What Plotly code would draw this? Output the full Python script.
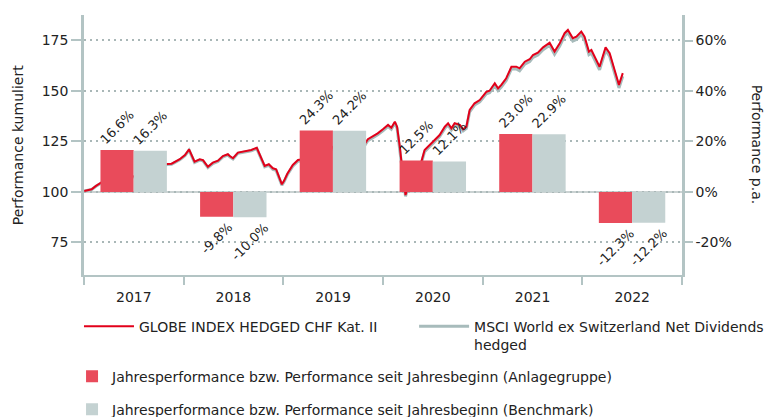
import plotly.graph_objects as go

# ---------------- data ----------------
dates = [
    "2017-01-02", "2017-01-29", "2017-02-14", "2017-03-07", "2017-03-30", "2017-04-17", "2017-05-05",
    "2017-05-31", "2017-06-18", "2017-07-07", "2017-07-31", "2017-08-23", "2017-09-18", "2017-10-12",
    "2017-11-01", "2017-11-18", "2017-12-18",
    "2018-01-06", "2018-01-21", "2018-02-10", "2018-03-01", "2018-03-13", "2018-03-31", "2018-04-18",
    "2018-05-07", "2018-05-25", "2018-06-12", "2018-06-19", "2018-07-01", "2018-07-19", "2018-08-06",
    "2018-08-25", "2018-09-06", "2018-09-26", "2018-10-25", "2018-11-09", "2018-11-24", "2018-12-06",
    "2018-12-27",
    "2019-01-04", "2019-01-16", "2019-02-05", "2019-02-24", "2019-03-14", "2019-04-01", "2019-04-19",
    "2019-05-08", "2019-05-26", "2019-06-13", "2019-07-02", "2019-07-20", "2019-08-07", "2019-08-26",
    "2019-09-13", "2019-10-01", "2019-10-20", "2019-11-07", "2019-11-25", "2019-12-13",
    "2020-01-01", "2020-01-20", "2020-02-01", "2020-02-14", "2020-02-22", "2020-03-03", "2020-03-15",
    "2020-03-24", "2020-04-02", "2020-04-15", "2020-05-03", "2020-05-21", "2020-06-02", "2020-06-21",
    "2020-07-09", "2020-07-27", "2020-08-15", "2020-08-27", "2020-09-08", "2020-09-20", "2020-10-09",
    "2020-10-21", "2020-11-02", "2020-11-14", "2020-12-02", "2020-12-21",
    "2021-01-14", "2021-01-26", "2021-02-14", "2021-02-26", "2021-03-10", "2021-03-28", "2021-04-16",
    "2021-05-04", "2021-05-16", "2021-06-04", "2021-06-22", "2021-07-04", "2021-07-22", "2021-08-10",
    "2021-09-03", "2021-09-21", "2021-10-10", "2021-10-28", "2021-11-09", "2021-11-27", "2021-12-10",
    "2021-12-28",
    "2022-01-09", "2022-01-25", "2022-02-03", "2022-03-05", "2022-03-27", "2022-04-11", "2022-04-29",
    "2022-05-15", "2022-05-29",
]

globe_index = [
    100.5, 101.3, 103.0, 104.8, 104.6, 104.3, 106.3, 107.3, 108.0, 107.6, 108.9, 107.6, 109.6, 112.2,
    113.9, 114.0, 116.2,
    118.3, 121.1, 115.0, 116.2, 115.8, 112.5, 114.5, 115.5, 117.8, 118.7, 117.8, 116.7, 119.5, 120.0,
    120.5, 120.8, 121.9, 112.9, 113.7, 111.7, 111.2, 103.8,
    105.5, 109.0, 113.4, 115.8, 116.2, 118.3, 120.8, 119.5, 116.2, 119.2, 122.4, 122.4, 118.3, 118.3,
    121.6, 120.5, 122.4, 126.1, 127.4, 129.0,
    131.0, 133.2, 131.8, 134.8, 132.3, 122.4, 107.6, 98.5, 102.6, 109.3, 112.5, 115.0, 120.8, 123.3,
    125.7, 128.2, 132.3, 134.0, 131.5, 134.0, 133.2, 131.0, 132.3, 140.6, 143.9, 145.5,
    149.6, 150.1, 153.8, 151.3, 153.0, 156.3, 162.0, 162.0, 161.2, 164.5, 165.7, 167.8, 169.0, 171.6,
    173.9, 169.5, 173.6, 178.6, 180.2, 176.1, 176.9, 179.4,
    176.9, 169.5, 170.3, 162.0, 171.6, 168.7, 160.4, 153.0, 158.8,
]

msci_world = [
    100.5, 101.2, 102.8, 104.6, 104.4, 104.1, 106.0, 107.0, 107.7, 107.3, 108.6, 107.3, 109.3, 111.9,
    113.6, 113.7, 115.9,
    118.0, 120.7, 114.6, 115.8, 115.4, 112.1, 114.1, 115.1, 117.4, 118.3, 117.4, 116.3, 119.1, 119.6,
    120.1, 120.4, 121.5, 112.4, 113.2, 111.2, 110.7, 103.4,
    105.0, 108.5, 112.8, 115.2, 115.6, 117.7, 120.1, 118.8, 115.4, 118.5, 121.7, 121.7, 117.6, 117.6,
    120.9, 119.8, 121.7, 125.4, 126.7, 128.3,
    130.3, 132.5, 131.1, 134.1, 131.6, 121.6, 106.9, 97.9, 102.0, 108.6, 111.8, 114.3, 120.0, 122.5,
    124.9, 127.4, 131.5, 133.2, 130.7, 133.2, 132.4, 130.2, 131.5, 139.7, 143.0, 144.6,
    148.6, 149.1, 152.7, 150.2, 151.9, 155.2, 160.9, 160.9, 160.0, 163.3, 164.5, 166.6, 167.8, 170.4,
    172.6, 168.2, 172.3, 177.3, 178.9, 174.7, 175.5, 178.0,
    175.4, 168.0, 168.8, 160.5, 170.1, 167.2, 158.9, 151.5, 157.3,
]

years = ["2017-07-02", "2018-07-02", "2019-07-02", "2020-07-02", "2021-07-02", "2022-07-02"]
perf_fund = [16.6, -9.8, 24.3, 12.5, 23.0, -12.3]
perf_bench = [16.3, -10.0, 24.2, 12.1, 22.9, -12.2]

left_ticks = [75, 100, 125, 150, 175]
right_ticks = [-20, 0, 20, 40, 60]
right_ticktext = ["-20%", "0%", "20%", "40%", "60%"]

name_fund_line = "GLOBE INDEX HEDGED CHF Kat. II"
name_bench_line = "MSCI World ex Switzerland Net Dividends<br>hedged"
name_fund_bar = "Jahresperformance bzw. Performance seit Jahresbeginn (Anlagegruppe)"
name_bench_bar = "Jahresperformance bzw. Performance seit Jahresbeginn (Benchmark)"

# ---------------- styles ----------------
FONT = "DejaVu Sans"
TXT = "#222222"
AXIS = "#B3C4C4"
GRID = "#A9B7B7"
RED_LINE = "#E2001A"
GREY_LINE = "#A7BBBB"
RED_BAR = "#E94B5B"
GREY_BAR = "#C4D2D2"

fig = go.Figure()

fig.add_trace(go.Bar(
    x=years, y=perf_fund, yaxis="y2", name=name_fund_bar,
    marker=dict(color=RED_BAR, line=dict(width=0)),
    texttemplate="%{y:.1f}%", textposition="outside", textangle=-45,
    textfont=dict(size=13, color=TXT, family=FONT), cliponaxis=False, constraintext="none",
    legend="legend2", legendgroup="a", offsetgroup="a",
))
fig.add_trace(go.Bar(
    x=years, y=perf_bench, yaxis="y2", name=name_bench_bar,
    marker=dict(color=GREY_BAR, line=dict(width=0)),
    texttemplate="%{y:.1f}%", textposition="outside", textangle=-45,
    textfont=dict(size=13, color=TXT, family=FONT), cliponaxis=False, constraintext="none",
    legend="legend2", legendgroup="b", offsetgroup="b",
))
fig.add_trace(go.Scatter(
    x=dates, y=msci_world, mode="lines", name=name_bench_line,
    line=dict(color=GREY_LINE, width=3), legend="legend3",
))
fig.add_trace(go.Scatter(
    x=dates, y=globe_index, mode="lines", name=name_fund_line,
    line=dict(color=RED_LINE, width=2), legend="legend",
))

fig.update_layout(
    width=765, height=417,
    showlegend=True,
    margin=dict(l=84, r=83, t=15, b=142, autoexpand=False),
    paper_bgcolor="white", plot_bgcolor="white",
    font=dict(family=FONT, size=14, color=TXT),
    barmode="group", bargap=1/3, bargroupgap=0,
    xaxis=dict(
        type="date", range=["2017-01-01", "2023-01-01"],
        tick0="2017-01-01", dtick="M12", ticklabelmode="period", tickformat="%Y",
        ticks="outside", ticklen=8, tickwidth=2, tickcolor=AXIS,
        showline=True, linecolor=AXIS, linewidth=2, showgrid=False, zeroline=False,
        tickfont=dict(size=14, color=TXT), automargin=False,
    ),
    yaxis=dict(
        range=[58.9, 187.6], tickmode="array", tickvals=left_ticks,
        ticks="outside", ticklen=10, tickwidth=2, tickcolor=AXIS,
        showline=True, linecolor=AXIS, linewidth=2.5,
        showgrid=True, gridcolor=GRID, gridwidth=2, griddash="2px,4px", zeroline=False,
        tickfont=dict(size=14, color=TXT), automargin=False,
    ),
    yaxis2=dict(
        overlaying="y", side="right", range=[-32.9, 70.1],
        tickmode="array", tickvals=right_ticks, ticktext=right_ticktext,
        ticks="outside", ticklen=8, tickwidth=2, tickcolor=AXIS,
        showline=True, linecolor=AXIS, linewidth=2.5, showgrid=False, zeroline=False,
        tickfont=dict(size=14, color=TXT), automargin=False,
    ),
    legend=dict(
        orientation="v", x=-0.0084, xanchor="left", y=-0.137, yanchor="top",
        itemwidth=50, font=dict(size=14, color=TXT), bgcolor="rgba(0,0,0,0)",
    ),
    legend3=dict(
        orientation="v", x=0.552, xanchor="left", y=-0.137, yanchor="top", valign="top",
        itemwidth=50, font=dict(size=14, color=TXT), bgcolor="rgba(0,0,0,0)",
    ),
    legend2=dict(
        orientation="v", x=-0.02, xanchor="left", y=-0.329, yanchor="top",
        tracegroupgap=12, font=dict(size=14, color=TXT), bgcolor="rgba(0,0,0,0)",
    ),
    shapes=[dict(type="line", xref="paper", x0=0, x1=1, yref="y", y0=100, y1=100,
                 line=dict(color="#B9C3C3", width=1.5), layer="below")],
    annotations=[
        dict(text="Performance kumuliert", xref="paper", yref="paper", x=-0.11, y=0.5,
             xanchor="center", yanchor="middle", textangle=-90, showarrow=False,
             font=dict(size=14, color=TXT)),
        dict(text="Performance p.a.", xref="paper", yref="paper", x=1.126, y=0.5,
             xanchor="center", yanchor="middle", textangle=90, showarrow=False,
             font=dict(size=14, color=TXT)),
    ],
)

fig.write_html(
    "out.html",
    config={"displayModeBar": False},
    post_script="document.body.style.margin='0';document.body.style.padding='0';",
)
